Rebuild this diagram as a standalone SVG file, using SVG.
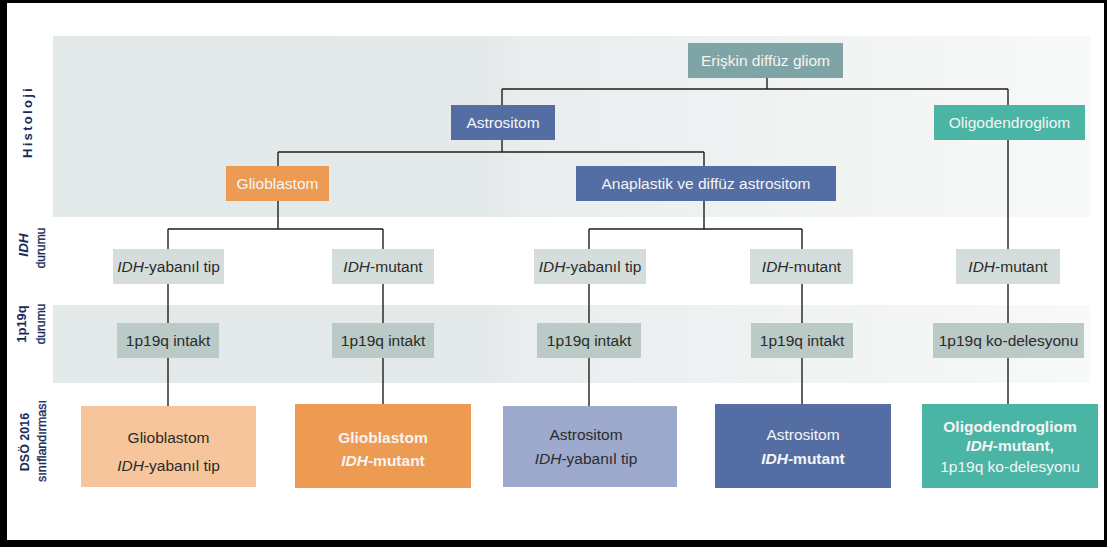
<svg xmlns="http://www.w3.org/2000/svg" width="1107" height="547" viewBox="0 0 1107 547">
<defs>
<linearGradient id="band" x1="0" y1="0" x2="1" y2="0">
<stop offset="0" stop-color="#e3e9e9"/>
<stop offset="0.42" stop-color="#e4e9ea"/>
<stop offset="0.45" stop-color="#e9eded"/>
<stop offset="1" stop-color="#f8f9f9"/>
</linearGradient>
<style>
.t{font-family:"Liberation Sans",Arial,sans-serif;font-size:15.5px;text-anchor:middle}
.w{fill:#f5f5f5}
.d{fill:#2b2b2b}
.b{font-weight:bold}
.i{font-style:italic}
.lab{font-family:"Liberation Sans",Arial,sans-serif;font-size:12px;font-weight:bold;fill:#1c2c5a;text-anchor:middle}
.lab2{font-family:"Liberation Sans",Arial,sans-serif;font-size:12px;fill:#1c2c5a;text-anchor:middle;stroke:#1c2c5a;stroke-width:0.35px}
.ln{stroke:#1e1e1e;stroke-width:1.4;fill:none}
.idh{fill:#d4dddb}
.pq{fill:#b9cac7}
</style>
</defs>
<rect width="1107" height="547" fill="#ffffff"/>
<rect x="53" y="36" width="1037" height="181" fill="url(#band)"/>
<rect x="53" y="305" width="1037" height="78" fill="url(#band)"/>
<path d="M0 0H1107V547H0Z M7 3V540H1104V3Z" fill="#000000" fill-rule="evenodd"/>
<g id="labels">
<text class="lab" transform="translate(32,122) rotate(-90)" style="font-size:13px;letter-spacing:2.3px">Histoloji</text>
<text class="lab i" transform="translate(27.5,245) rotate(-90)" style="font-size:13.5px">IDH</text>
<text class="lab2" transform="translate(45,248) rotate(-90)">durumu</text>
<text class="lab" transform="translate(26,324) rotate(-90)" style="font-size:13px">1p19q</text>
<text class="lab2" transform="translate(45,324) rotate(-90)">durumu</text>
<text class="lab" transform="translate(28.5,442) rotate(-90)" style="font-size:12.5px">DSÖ 2016</text>
<text class="lab2" transform="translate(46,441) rotate(-90)" style="font-size:12.5px">sınıflandırması</text>
</g>
<g id="connectors">
<path class="ln" d="M767 78V89 M502 89H1008 M502 89V105 M1008 89V404"/>
<path class="ln" d="M502 140V152 M278 152H704 M278 152V166 M704 152V166"/>
<path class="ln" d="M278 201V229 M168 229H383 M168 229V406 M383 229V404"/>
<path class="ln" d="M704 201V229 M589 229H802 M589 229V406 M802 229V404"/>
</g>
<g id="n-eriskin"><rect x="688" y="43" width="155" height="35" fill="#7fa4a5"/><text class="t w" x="765.5" y="66">Erişkin diffüz gliom</text></g>
<g id="n-astrositom"><rect x="451" y="105" width="104" height="35" fill="#546ea4"/><text class="t w" x="503" y="128">Astrositom</text></g>
<g id="n-oligo"><rect x="934" y="105" width="151" height="35" fill="#4ab4a5"/><text class="t w" x="1009.5" y="128">Oligodendrogliom</text></g>
<g id="n-glioblastom"><rect x="226" y="166" width="103" height="35" fill="#ed9a52"/><text class="t w" x="277.5" y="189">Glioblastom</text></g>
<g id="n-anaplastik"><rect x="576" y="166" width="260" height="35" fill="#546ea4"/><text class="t w" x="706" y="189">Anaplastik ve diffüz astrositom</text></g>
<g id="n-idh1"><rect class="idh" x="113" y="249" width="111" height="35"/><text class="t d" x="168.5" y="272"><tspan class="i">IDH</tspan>-yabanıl tip</text></g>
<g id="n-idh2"><rect class="idh" x="332" y="249" width="102" height="35"/><text class="t d" x="383" y="272"><tspan class="i">IDH</tspan>-mutant</text></g>
<g id="n-idh3"><rect class="idh" x="534" y="249" width="112" height="35"/><text class="t d" x="590" y="272"><tspan class="i">IDH</tspan>-yabanıl tip</text></g>
<g id="n-idh4"><rect class="idh" x="750" y="249" width="103" height="35"/><text class="t d" x="801.5" y="272"><tspan class="i">IDH</tspan>-mutant</text></g>
<g id="n-idh5"><rect class="idh" x="956" y="249" width="104" height="35"/><text class="t d" x="1008" y="272"><tspan class="i">IDH</tspan>-mutant</text></g>
<g id="n-pq1"><rect class="pq" x="117" y="323" width="102" height="35"/><text class="t d" x="168" y="346">1p19q intakt</text></g>
<g id="n-pq2"><rect class="pq" x="332" y="323" width="102" height="35"/><text class="t d" x="383" y="346">1p19q intakt</text></g>
<g id="n-pq3"><rect class="pq" x="537" y="323" width="104" height="35"/><text class="t d" x="589" y="346">1p19q intakt</text></g>
<g id="n-pq4"><rect class="pq" x="751" y="323" width="102" height="35"/><text class="t d" x="802" y="346">1p19q intakt</text></g>
<g id="n-pq5"><rect class="pq" x="933" y="323" width="151" height="35"/><text class="t d" x="1008.5" y="346">1p19q ko-delesyonu</text></g>
<g id="n-who1"><rect x="81" y="406" width="175" height="81" fill="#f6c59b"/><text class="t d" x="168.5" y="443">Glioblastom</text><text class="t d" x="168.5" y="471"><tspan class="i">IDH</tspan>-yabanıl tip</text></g>
<g id="n-who2"><rect x="295" y="404" width="176" height="84" fill="#ed9a52"/><text class="t w b" x="383" y="443">Glioblastom</text><text class="t w b" x="383" y="466"><tspan class="i">IDH</tspan>-mutant</text></g>
<g id="n-who3"><rect x="503" y="406" width="174" height="81" fill="#9daacd"/><text class="t d" x="586" y="440">Astrositom</text><text class="t d" x="586" y="464"><tspan class="i">IDH</tspan>-yabanıl tip</text></g>
<g id="n-who4"><rect x="715" y="404" width="176" height="84" fill="#546ea4"/><text class="t w" x="803" y="440">Astrositom</text><text class="t w b" x="803" y="464"><tspan class="i">IDH</tspan>-mutant</text></g>
<g id="n-who5"><rect x="922" y="404" width="176" height="84" fill="#4ab4a5"/><text class="t w b" x="1010" y="432">Oligodendrogliom</text><text class="t w b" x="1010" y="451"><tspan class="i">IDH</tspan>-mutant,</text><text class="t w" x="1010" y="472">1p19q ko-delesyonu</text></g>
</svg>
